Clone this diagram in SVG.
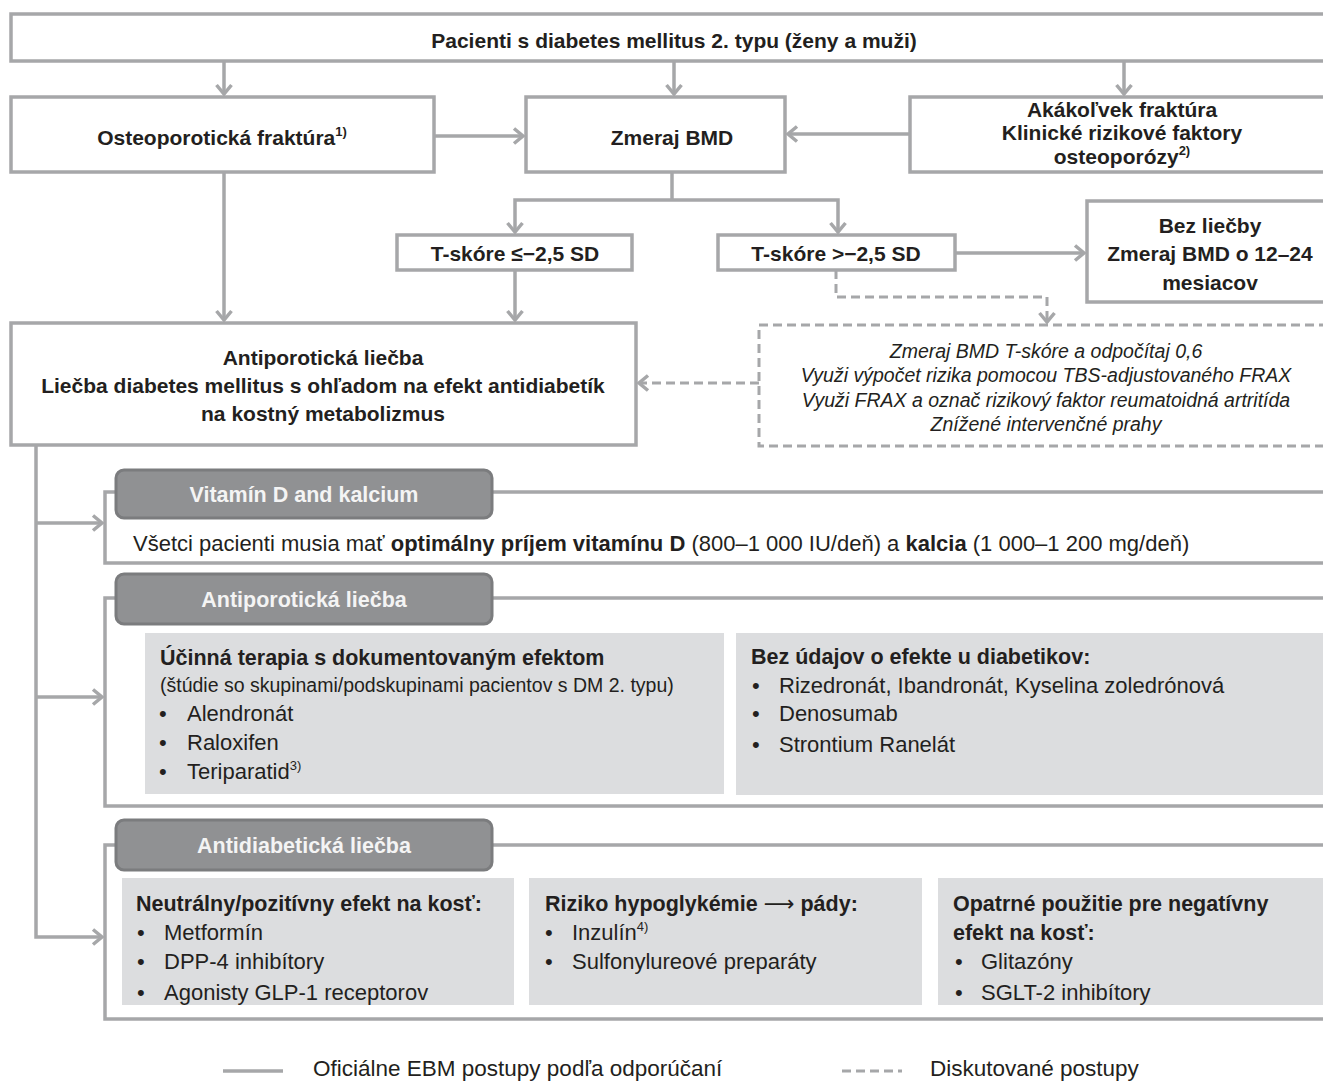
<svg xmlns="http://www.w3.org/2000/svg" width="1323" height="1082" viewBox="0 0 1323 1082">
<defs>
<marker id="arr" markerUnits="userSpaceOnUse" markerWidth="20" markerHeight="20" viewBox="0 0 20 20" refX="11" refY="10" orient="auto">
<path d="M2,2.5 L11,10 L2,17.5" fill="none" stroke="#a6a7a9" stroke-width="3.5"/>
</marker>
<style>
.bx{fill:#fff;stroke:#a6a7a9;stroke-width:3.5}
.dbx{fill:#fff;stroke:#a6a7a9;stroke-width:3;stroke-dasharray:9,5}
.ln{fill:none;stroke:#a6a7a9;stroke-width:3.5}
.dl{fill:none;stroke:#a6a7a9;stroke-width:3;stroke-dasharray:9,5}
.tab{fill:#909193;stroke:#7b7c7e;stroke-width:3}
.inner{fill:#dcdddf}
text{font-family:"Liberation Sans",Arial,sans-serif;fill:#231f20}
.b{font-weight:bold;font-size:21px}
.c{text-anchor:middle}
.tt{font-weight:bold;font-size:21.5px;fill:#f4f4f4;text-anchor:middle}
.it{font-style:italic;font-size:19.5px;text-anchor:middle}
.r{font-size:22px}
.h{font-weight:bold;font-size:21.5px}
.s{font-size:19.5px}
.lg{font-size:22.5px}
.sup{font-size:13px}
</style>
</defs>

<g id="connectors">
<path class="ln" d="M224,61 V94" marker-end="url(#arr)"/>
<path class="ln" d="M674,61 V94" marker-end="url(#arr)"/>
<path class="ln" d="M1124,61 V94" marker-end="url(#arr)"/>
<path class="ln" d="M434,136 H523" marker-end="url(#arr)"/>
<path class="ln" d="M910,134 H788" marker-end="url(#arr)"/>
<path class="ln" d="M672,172 V200"/>
<path class="ln" d="M672,200 H515 V232" marker-end="url(#arr)"/>
<path class="ln" d="M672,200 H838 V232" marker-end="url(#arr)"/>
<path class="ln" d="M955,253 H1084" marker-end="url(#arr)"/>
<path class="ln" d="M515,270 V320" marker-end="url(#arr)"/>
<path class="ln" d="M224,172 V320" marker-end="url(#arr)"/>
<path class="dl" d="M836,270 V297 H1047 V322" marker-end="url(#arr)"/>
<path class="dl" d="M759,383 H639" marker-end="url(#arr)"/>
<path class="ln" d="M36,445 V937 H102" marker-end="url(#arr)"/>
<path class="ln" d="M36,523 H102" marker-end="url(#arr)"/>
<path class="ln" d="M36,697 H102" marker-end="url(#arr)"/>
</g>

<g id="n-patients">
<rect class="bx" x="11" y="14" width="1340" height="47"/>
<text class="b c" x="674" y="48">Pacienti s diabetes mellitus 2. typu (ženy a muži)</text>
</g>

<g id="n-fracture">
<rect class="bx" x="11" y="97" width="423" height="75"/>
<text class="b c" x="222" y="145">Osteoporotická fraktúra<tspan class="sup" dy="-9">1)</tspan></text>
</g>

<g id="n-bmd">
<rect class="bx" x="526" y="97" width="259" height="75"/>
<text class="b c" x="672" y="145">Zmeraj BMD</text>
</g>

<g id="n-risk">
<rect class="bx" x="910" y="97" width="440" height="75"/>
<text class="b c" x="1122" y="117">Akákoľvek fraktúra</text>
<text class="b c" x="1122" y="140">Klinické rizikové faktory</text>
<text class="b c" x="1122" y="164">osteoporózy<tspan class="sup" dy="-9">2)</tspan></text>
</g>

<g id="n-tlow">
<rect class="bx" x="397" y="235" width="235" height="35"/>
<text class="b c" x="515" y="261">T-skóre ≤−2,5 SD</text>
</g>

<g id="n-thigh">
<rect class="bx" x="718" y="235" width="237" height="35"/>
<text class="b c" x="836" y="261">T-skóre &gt;−2,5 SD</text>
</g>

<g id="n-notreat">
<rect class="bx" x="1087" y="201" width="260" height="101"/>
<text class="b c" x="1210" y="233">Bez liečby</text>
<text class="b c" x="1210" y="261">Zmeraj BMD o 12–24</text>
<text class="b c" x="1210" y="290">mesiacov</text>
</g>

<g id="n-antiporotic">
<rect class="bx" x="11" y="323" width="625" height="122"/>
<text class="b c" x="323" y="365">Antiporotická liečba</text>
<text class="b c" x="323" y="393">Liečba diabetes mellitus s ohľadom na efekt antidiabetík</text>
<text class="b c" x="323" y="421">na kostný metabolizmus</text>
</g>

<g id="n-discussed">
<rect class="dbx" x="759" y="325" width="600" height="121"/>
<text class="it" x="1046" y="358">Zmeraj BMD T-skóre a odpočítaj 0,6</text>
<text class="it" x="1046" y="382">Využi výpočet rizika pomocou TBS-adjustovaného FRAX</text>
<text class="it" x="1046" y="407">Využi FRAX a označ rizikový faktor reumatoidná artritída</text>
<text class="it" x="1046" y="431">Znížené intervenčné prahy</text>
</g>

<g id="n-vitd">
<rect class="bx" x="105" y="492" width="1250" height="71"/>
<rect class="tab" x="116" y="470" width="376" height="48" rx="8"/>
<text class="tt" x="304" y="502">Vitamín D and kalcium</text>
<text class="r" x="133" y="551">Všetci pacienti musia mať <tspan font-weight="bold">optimálny príjem vitamínu D</tspan> (800–1 000 IU/deň) a <tspan font-weight="bold">kalcia</tspan> (1 000–1 200 mg/deň)</text>
</g>

<g id="n-antiporotic-treatment">
<rect class="bx" x="105" y="598" width="1250" height="208"/>
<rect class="tab" x="116" y="574" width="376" height="50" rx="8"/>
<text class="tt" x="304" y="607">Antiporotická liečba</text>
<rect class="inner" x="145" y="633" width="579" height="161"/>
<text class="h" x="160" y="665">Účinná terapia s dokumentovaným efektom</text>
<text class="s" x="160" y="692">(štúdie so skupinami/podskupinami pacientov s DM 2. typu)</text>
<text class="r" x="159" y="721">•</text><text class="r" x="187" y="721">Alendronát</text>
<text class="r" x="159" y="750">•</text><text class="r" x="187" y="750">Raloxifen</text>
<text class="r" x="159" y="779">•</text><text class="r" x="187" y="779">Teriparatid<tspan class="sup" dy="-9">3)</tspan></text>
<rect class="inner" x="736" y="633" width="600" height="162"/>
<text class="h" x="751" y="664">Bez údajov o efekte u diabetikov:</text>
<text class="r" x="752" y="693">•</text><text class="r" x="779" y="693">Rizedronát, Ibandronát, Kyselina zoledrónová</text>
<text class="r" x="752" y="721">•</text><text class="r" x="779" y="721">Denosumab</text>
<text class="r" x="752" y="752">•</text><text class="r" x="779" y="752">Strontium Ranelát</text>
</g>

<g id="n-antidiabetic-treatment">
<rect class="bx" x="105" y="845" width="1250" height="174"/>
<rect class="tab" x="116" y="820" width="376" height="50" rx="8"/>
<text class="tt" x="304" y="853">Antidiabetická liečba</text>
<rect class="inner" x="122" y="878" width="392" height="127"/>
<text class="h" x="136" y="911">Neutrálny/pozitívny efekt na kosť:</text>
<text class="r" x="137" y="940">•</text><text class="r" x="164" y="940">Metformín</text>
<text class="r" x="137" y="969">•</text><text class="r" x="164" y="969">DPP-4 inhibítory</text>
<text class="r" x="137" y="1000">•</text><text class="r" x="164" y="1000">Agonisty GLP-1 receptorov</text>
<rect class="inner" x="529" y="878" width="393" height="127"/>
<text class="h" x="545" y="911">Riziko hypoglykémie <tspan font-family="'DejaVu Sans',sans-serif" font-weight="normal">⟶</tspan> pády:</text>
<text class="r" x="545" y="940">•</text><text class="r" x="572" y="940">Inzulín<tspan class="sup" dy="-9">4)</tspan></text>
<text class="r" x="545" y="969">•</text><text class="r" x="572" y="969">Sulfonylureové preparáty</text>
<rect class="inner" x="938" y="878" width="400" height="127"/>
<text class="h" x="953" y="911">Opatrné použitie pre negatívny</text>
<text class="h" x="953" y="940">efekt na kosť:</text>
<text class="r" x="955" y="969">•</text><text class="r" x="981" y="969">Glitazóny</text>
<text class="r" x="955" y="1000">•</text><text class="r" x="981" y="1000">SGLT-2 inhibítory</text>
</g>

<g id="legend">
<line class="ln" x1="223" y1="1071" x2="283" y2="1071"/>
<text class="lg" x="313" y="1076">Oficiálne EBM postupy podľa odporúčaní</text>
<line class="dl" x1="842" y1="1071" x2="902" y2="1071"/>
<text class="lg" x="930" y="1076">Diskutované postupy</text>
</g>
</svg>
